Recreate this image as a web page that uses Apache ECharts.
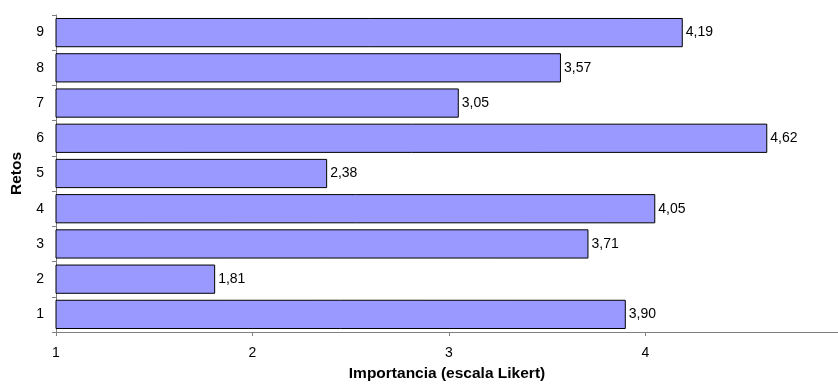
<!DOCTYPE html>
<html>
<head>
<meta charset="utf-8">
<script src="https://cdn.jsdelivr.net/npm/echarts@6/dist/echarts.min.js"></script>
<style>
  html, body { margin: 0; padding: 0; background: #fff; }
  #box { width: 838px; height: 390px; }
</style>
</head>
<body>
<div id="box"></div>
<script>
// retos 1..9 (de abajo hacia arriba)
var retos = ['1', '2', '3', '4', '5', '6', '7', '8', '9'];
var importancia = [3.90, 1.81, 3.71, 4.05, 2.38, 4.62, 3.05, 3.57, 4.19];
var ejeX = { min: 1, max: 4.98, interval: 1 };

var myChart = echarts.init(document.getElementById('box'));
var fuente = 'Liberation Sans, Arial, sans-serif';

var option = {
  animation: false,
  grid: { left: 56, right: 0, top: 15, bottom: 58 },
  xAxis: {
    type: 'value',
    min: ejeX.min,
    max: ejeX.max,
    interval: ejeX.interval,
    name: 'Importancia (escala Likert)',
    nameLocation: 'middle',
    nameGap: 34,
    nameTextStyle: { fontFamily: fuente, fontSize: 15.5, fontWeight: 'bold', color: '#000' },
    axisLine: { show: true, lineStyle: { color: '#808080', width: 1 } },
    axisTick: { show: true, length: 4, lineStyle: { color: '#808080' } },
    axisLabel: { showMaxLabel: false, margin: 14, fontFamily: fuente, fontSize: 14, color: '#000' },
    splitLine: { show: false }
  },
  yAxis: {
    type: 'category',
    data: retos,
    name: 'Retos',
    nameLocation: 'middle',
    nameGap: 31,
    nameRotate: 90,
    nameTextStyle: { fontFamily: fuente, fontSize: 15.5, fontWeight: 'bold', color: '#000' },
    axisLine: { show: true, lineStyle: { color: '#808080', width: 1 } },
    axisTick: { show: true, length: 4, lineStyle: { color: '#808080' } },
    axisLabel: { margin: 12, fontFamily: fuente, fontSize: 14, color: '#000' }
  },
  series: [{
    type: 'bar',
    data: importancia,
    barCategoryGap: '17%',
    itemStyle: { color: '#9999ff', borderColor: '#000', borderWidth: 1 },
    label: {
      show: true,
      position: 'right',
      distance: 3,
      fontFamily: fuente,
      fontSize: 14,
      color: '#000',
      formatter: function (p) { return p.value.toFixed(2).replace('.', ','); }
    }
  }]
};
myChart.setOption(option, true);
</script>
</body>
</html>
